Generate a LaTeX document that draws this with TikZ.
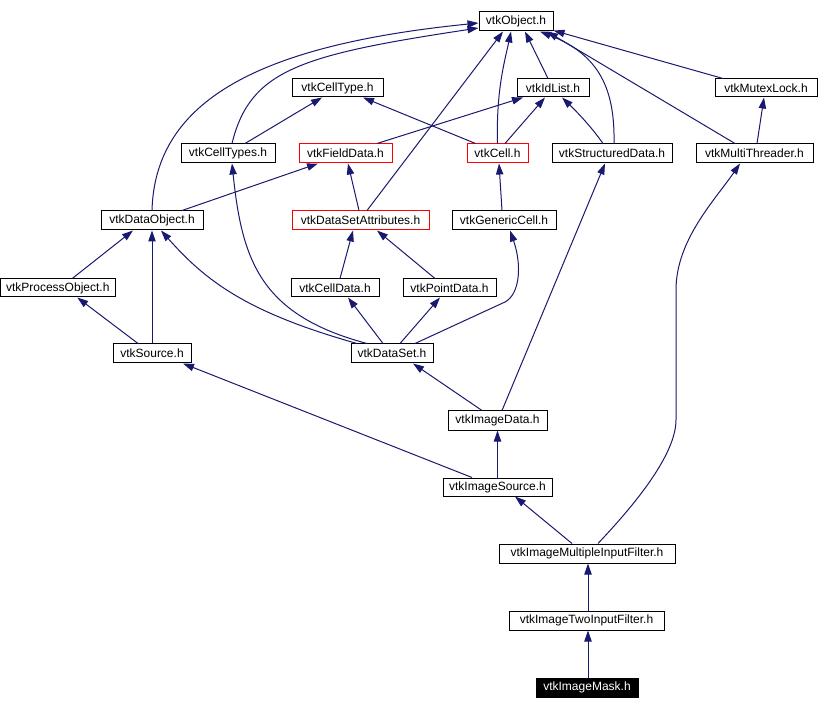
\documentclass[tikz,border=0pt]{standalone}
\usepackage{fontspec}
\setmainfont{Liberation Sans}
\usetikzlibrary{arrows.meta,calc}
\definecolor{edgec}{HTML}{191970}
\newcommand\vtkbox[7]{%
  \node[#1, minimum width={(#4-#2)*0.75pt}, minimum height={(#5-#3)*0.75pt}]
    (#6) at ({(#2+#4)/2},{(#3+#5)/2}) {#7};}
\begin{document}
\begin{tikzpicture}[x=0.75pt,y=-0.75pt,
  hbox/.style={draw=black, line width=0.75pt, inner sep=0pt, fill=white,
    font=\fontsize{9pt}{11pt}\selectfont, text=black},
  redbox/.style={hbox, draw=red},
  curbox/.style={hbox, fill=black, text=white},
  edge/.style={draw=edgec, line width=0.75pt,
    -{Triangle[length=8.25pt,width=5.5pt]}, fill=none}]
\useasboundingbox (0,0) rectangle (818,709);
\fill[white] (0,0) rectangle (818,709);
% nodes
\vtkbox{hbox}{479}{12}{553}{31}{obj}{vtkObject.h}
\vtkbox{hbox}{292}{79}{383}{97}{celltype}{vtkCellType.h}
\vtkbox{hbox}{517}{79}{589}{97}{idlist}{vtkIdList.h}
\vtkbox{hbox}{715}{79}{817}{97}{mutex}{vtkMutexLock.h}
\vtkbox{hbox}{181}{144}{275}{163}{celltypes}{vtkCellTypes.h}
\vtkbox{redbox}{299}{144}{392}{163}{fielddata}{vtkFieldData.h}
\vtkbox{redbox}{467}{144}{528}{163}{cell}{vtkCell.h}
\vtkbox{hbox}{552}{144}{672}{163}{sdata}{vtkStructuredData.h}
\vtkbox{hbox}{696}{144}{813}{163}{mthread}{vtkMultiThreader.h}
\vtkbox{hbox}{101}{211}{203}{230}{dobj}{vtkDataObject.h}
\vtkbox{redbox}{292}{211}{429}{230}{dsattr}{vtkDataSetAttributes.h}
\vtkbox{hbox}{452}{211}{556}{230}{gcell}{vtkGenericCell.h}
\vtkbox{hbox}{0.5}{279}{115}{297}{pobj}{vtkProcessObject.h}
\vtkbox{hbox}{291}{279}{379}{297}{celldata}{vtkCellData.h}
\vtkbox{hbox}{403}{279}{496}{297}{pdata}{vtkPointData.h}
\vtkbox{hbox}{113}{344}{191}{363}{source}{vtkSource.h}
\vtkbox{hbox}{351}{344}{433}{363}{dset}{vtkDataSet.h}
\vtkbox{hbox}{448}{411}{547}{430}{idata}{vtkImageData.h}
\vtkbox{hbox}{443}{478}{552}{496}{isrc}{vtkImageSource.h}
\vtkbox{hbox}{499}{544}{675}{563}{imif}{vtkImageMultipleInputFilter.h}
\vtkbox{hbox}{509}{611}{664}{630}{itif}{vtkImageTwoInputFilter.h}
\vtkbox{curbox}{536}{678}{638}{697}{mask}{vtkImageMask.h}
% edges
\draw[edge] (dobj.north) .. controls (155,100) and (260,45) .. ($(obj.west)+(0,1.5)$);
\draw[edge] ($(celltypes.north)+(4,0)$) .. controls (250,70) and (300,55) .. ($(obj.west)+(0,6.5)$);
\draw[edge] ($(dsattr.north)+(6.5,0)$) -- ($(obj.south)+(-13,0)$);
\draw[edge] (cell.north) .. controls (496,90) and (505,60) .. ($(obj.south)+(-5,0)$);
\draw[edge] ($(idlist.north)+(-5,0)$) -- ($(obj.south)+(9,0)$);
\draw[edge] ($(sdata.north)+(2,0)$) .. controls (615,90) and (600,55) .. ($(obj.south)+(24,0)$);
\draw[edge] ($(mthread.north)+(-19.5,0)$) -- ($(obj.south)+(31,0)$);
\draw[edge] ($(mutex.north)+(-43,0)$) -- ($(obj.south east)+(0,-1)$);
\draw[edge] ($(celltypes.north)+(17,0)$) -- ($(celltype.south)+(-15.5,0)$);
\draw[edge] ($(cell.north)+(-22,0)$) -- ($(celltype.south)+(25.5,0)$);
\draw[edge] ($(fielddata.north)+(31.5,0)$) -- ($(idlist.south)+(-30,0)$);
\draw[edge] ($(cell.north)+(7.5,0)$) -- ($(idlist.south)+(-8,0)$);
\draw[edge] ($(sdata.north)+(-9,0)$) .. controls (590,125) and (575,110) .. ($(idlist.south)+(9,0)$);
\draw[edge] ($(mthread.north)+(2.5,0)$) -- ($(mutex.south)+(-2,0)$);
\draw[edge] ($(dobj.north)+(30,0)$) -- ($(fielddata.south)+(-27.5,0)$);
\draw[edge] ($(dsattr.north)+(-1.5,0)$) -- ($(fielddata.south)+(2.5,0)$);
\draw[edge] ($(gcell.north)+(-2,0)$) -- ($(cell.south)+(1.5,0)$);
\draw[edge] ($(dset.north)+(-25,0)$) .. controls (260,315) and (242,260) .. ($(celltypes.south)+(4,0)$);
\draw[edge] ($(dset.north)+(-35,0)$) .. controls (245,312) and (205,280) .. ($(dobj.south)+(9,0)$);
\draw[edge] ($(pobj.north)+(14.5,0)$) -- ($(dobj.south)+(-19,0)$);
\draw[edge] (source.north) -- (dobj.south);
\draw[edge] ($(source.north)+(-14,0)$) -- ($(pobj.south)+(19.5,0)$);
\draw[edge] ($(celldata.north)+(5,0)$) -- ($(dsattr.south)+(-7.5,0)$);
\draw[edge] ($(pdata.north)+(-14.5,0)$) -- ($(dsattr.south)+(16.5,0)$);
\draw[edge] ($(dset.north)+(-9,0)$) -- ($(celldata.south)+(13,0)$);
\draw[edge] ($(dset.north)+(8,0)$) -- ($(pdata.south)+(-9.5,0)$);
\draw[edge] ($(dset.north)+(23,0)$) -- (505,302) .. controls (520,294) and (522,265) .. ($(gcell.south)+(6,0)$);
\draw[edge] ($(idata.north)+(-15.5,0)$) -- ($(dset.south)+(21,0)$);
\draw[edge] ($(idata.north)+(4.5,0)$) -- ($(sdata.south)+(-7,0)$);
\draw[edge] (isrc.north) -- (idata.south);
\draw[edge] ($(isrc.north)+(-25.5,0)$) -- ($(source.south)+(31,0)$);
\draw[edge] ($(imif.north)+(-15,0)$) -- ($(isrc.south)+(17.5,0)$);
\draw[edge] ($(imif.north)+(11,0)$) .. controls (620,520) and (676,460) .. (676,420) -- (676,290) .. controls (676,240) and (715,200) .. ($(mthread.south)+(-14.5,0)$);
\draw[edge] ($(itif.north)+(1.5,0)$) -- ($(imif.south)+(1,0)$);
\draw[edge] ($(mask.north)+(1,0)$) -- ($(itif.south)+(1.5,0)$);
\end{tikzpicture}
\end{document}
